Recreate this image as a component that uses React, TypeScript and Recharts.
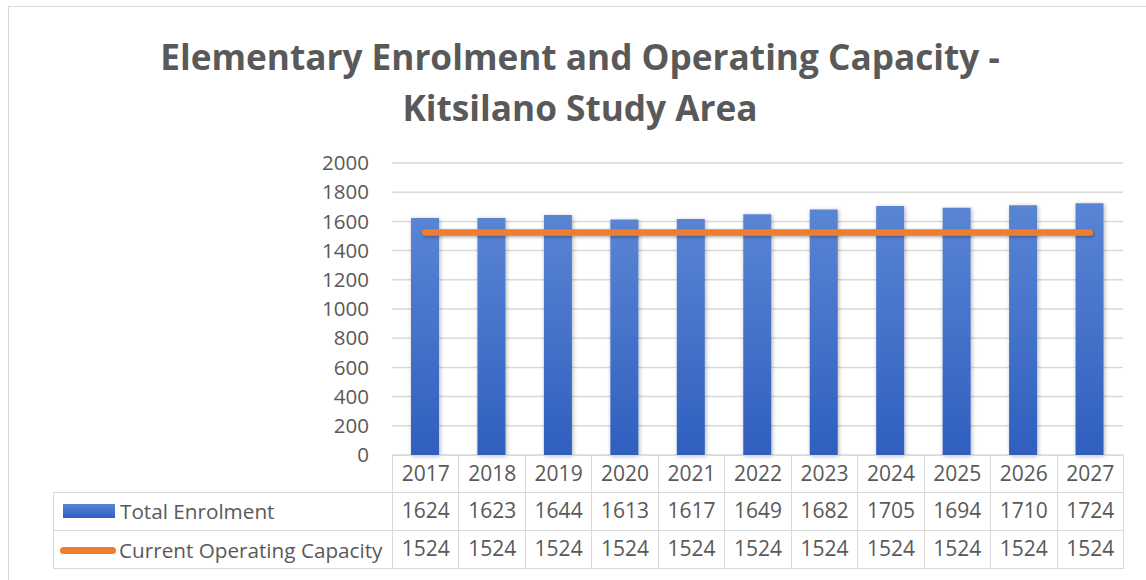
import React from 'react';
import { ComposedChart, Bar, Line, XAxis, YAxis, CartesianGrid } from 'recharts';

const years = ['2017', '2018', '2019', '2020', '2021', '2022', '2023', '2024', '2025', '2026', '2027'];
const totalEnrolment = [1624, 1623, 1644, 1613, 1617, 1649, 1682, 1705, 1694, 1710, 1724];
const operatingCapacity = [1524, 1524, 1524, 1524, 1524, 1524, 1524, 1524, 1524, 1524, 1524];
const yTicks = [0, 200, 400, 600, 800, 1000, 1200, 1400, 1600, 1800, 2000];

const chartData = years.map((year, i) => ({
  year,
  enrolment: totalEnrolment[i],
  capacity: operatingCapacity[i],
}));

const FONT = '"Open Sans", "Noto Sans", sans-serif';
const TEXT = '#595959';
const GRID = '#d9d9d9';

// plot area: x 392 -> 1123, y 163 -> 455
const PLOT_LEFT = 392;
const PLOT_RIGHT = 1123;
const TABLE_LEFT = 53;
const colWidth = (PLOT_RIGHT - PLOT_LEFT) / years.length;

const cell: React.CSSProperties = {
  border: `1.5px solid ${GRID}`,
  padding: '0 0 3px 0',
  textAlign: 'center',
  whiteSpace: 'nowrap',
  overflow: 'hidden',
};

const labelCell: React.CSSProperties = { ...cell, textAlign: 'left', fontSize: 20.7 };

const DataTable = () => (
  <table
    style={{
      position: 'absolute',
      left: TABLE_LEFT,
      top: 455,
      width: PLOT_RIGHT - TABLE_LEFT,
      borderCollapse: 'collapse',
      tableLayout: 'fixed',
      fontFamily: FONT,
      fontSize: 21,
      color: TEXT,
    }}
  >
    <colgroup>
      <col style={{ width: PLOT_LEFT - TABLE_LEFT }} />
      {years.map((y) => (
        <col key={y} style={{ width: colWidth }} />
      ))}
    </colgroup>
    <tbody>
      <tr style={{ height: 37 }}>
        <td style={{ ...cell, borderTop: 'none', borderLeft: 'none' }} />
        {years.map((y) => (
          <td key={y} style={cell}>{y}</td>
        ))}
      </tr>
      <tr style={{ height: 38 }}>
        <td style={labelCell}>
          <span style={{ display: 'inline-flex', alignItems: 'center' }}>
            <span
              style={{
                display: 'inline-block',
                width: 52,
                height: 14,
                marginLeft: 9,
                marginRight: 5,
                background: 'linear-gradient(#5a85d4, #2f5fbf)',
              }}
            />
            Total Enrolment
          </span>
        </td>
        {totalEnrolment.map((v, i) => (
          <td key={i} style={cell}>{v}</td>
        ))}
      </tr>
      <tr style={{ height: 38 }}>
        <td style={labelCell}>
          <span style={{ display: 'inline-flex', alignItems: 'center' }}>
            <span
              style={{
                display: 'inline-block',
                width: 56,
                height: 7,
                borderRadius: 4,
                marginLeft: 6,
                marginRight: 3,
                background: '#ED7D31',
              }}
            />
            Current Operating Capacity
          </span>
        </td>
        {operatingCapacity.map((v, i) => (
          <td key={i} style={cell}>{v}</td>
        ))}
      </tr>
    </tbody>
  </table>
);

export default function App() {
  return (
    <div
      style={{
        position: 'absolute',
        left: 0,
        top: 0,
        width: 1146,
        height: 580,
        background: '#fff',
        overflow: 'hidden',
      }}
    >
      <div
        style={{
          position: 'absolute',
          left: 8,
          top: 6,
          width: 1160,
          height: 600,
          border: `1.5px solid ${GRID}`,
        }}
      />
      <div
        style={{
          position: 'absolute',
          left: 0,
          top: 31,
          width: 1160,
          textAlign: 'center',
          fontFamily: FONT,
          fontWeight: 700,
          fontSize: 35.2,
          lineHeight: '51px',
          color: TEXT,
        }}
      >
        Elementary Enrolment and Operating Capacity -<br />
        Kitsilano Study Area
      </div>
      <div style={{ position: 'absolute', left: 0, top: 0 }}>
        <ComposedChart
          width={1146}
          height={580}
          data={chartData}
          margin={{ top: 163, right: 1146 - PLOT_RIGHT, bottom: 125, left: PLOT_LEFT - 60 }}
        >
          <defs>
            <linearGradient id="barFill" x1="0" y1="0" x2="0" y2="1">
              <stop offset="0%" stopColor="#5a85d4" />
              <stop offset="100%" stopColor="#2f5fbf" />
            </linearGradient>
            <filter id="barShadow" x="-30%" y="-10%" width="160%" height="130%">
              <feDropShadow dx="1" dy="1" stdDeviation="2" floodColor="#000" floodOpacity="0.3" />
            </filter>
            {/* the capacity line is flat, so its box has no height: use page units */}
            <filter id="lineShadow" filterUnits="userSpaceOnUse" x="0" y="0" width="1146" height="580">
              <feDropShadow dx="1" dy="1.5" stdDeviation="1.5" floodColor="#000" floodOpacity="0.3" />
            </filter>
          </defs>
          <CartesianGrid vertical={false} stroke={GRID} strokeWidth={1.5} />
          <XAxis dataKey="year" hide />
          <YAxis
            width={60}
            domain={[0, 2000]}
            ticks={yTicks}
            interval={0}
            axisLine={false}
            tickLine={false}
            tickSize={0}
            tickMargin={23}
            tick={{ fill: TEXT, fontSize: 20.5, fontFamily: FONT }}
          />
          <Bar
            dataKey="enrolment"
            barSize={28}
            fill="url(#barFill)"
            filter="url(#barShadow)"
            isAnimationActive={false}
          />
          <Line
            dataKey="capacity"
            stroke="#ED7D31"
            strokeWidth={6.5}
            strokeLinecap="round"
            dot={false}
            activeDot={false}
            filter="url(#lineShadow)"
            isAnimationActive={false}
          />
        </ComposedChart>
      </div>
      <DataTable />
    </div>
  );
}
